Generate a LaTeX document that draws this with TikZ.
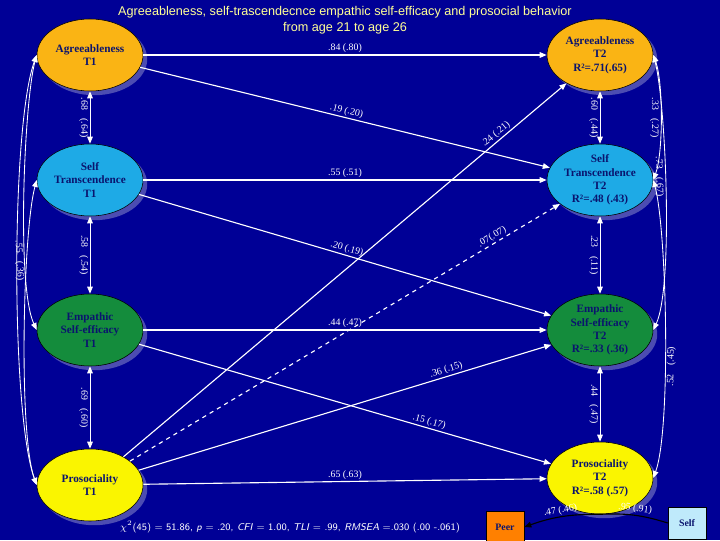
\documentclass[tikz,border=0pt]{standalone}
\usepackage{fontspec}
\setmainfont{Liberation Serif}
\newfontfamily\titlefont{Liberation Sans}
\usetikzlibrary{shapes.geometric,shadows,arrows.meta}
\definecolor{bgnavy}{RGB}{0,0,150}
\definecolor{txtnavy}{RGB}{10,20,110}
\definecolor{agreeor}{RGB}{250,180,20}
\definecolor{selfcy}{RGB}{30,170,230}
\definecolor{empgr}{RGB}{20,140,60}
\definecolor{prosye}{RGB}{250,245,0}
\definecolor{titleye}{RGB}{255,255,150}
\tikzset{
	latent/.style={ellipse,draw=black,thin,minimum width=2.65cm,minimum height=1.8cm,inner sep=0pt,
		align=center,font=\bfseries\footnotesize,text=txtnavy,
		drop shadow={fill=gray!60!blue,shadow xshift=3pt,shadow yshift=-3pt,opacity=1}},
	obsbox/.style={draw=black,minimum width=0.95cm,minimum height=0.8cm,font=\bfseries\scriptsize,text=txtnavy},
	path/.style={draw=white,thick,-{Triangle[length=5pt,width=4pt]}},
	corr/.style={draw=white,semithick,{Triangle[length=5pt,width=4pt]}-{Triangle[length=5pt,width=4pt]}},
	lbl/.style={font=\scriptsize,text=white,inner sep=1pt}
}
\begin{document}
\begin{tikzpicture}[x=0.025cm,y=0.025cm]
	\fill[bgnavy] (0,0) rectangle (720,540);
	\useasboundingbox (0,0) rectangle (720,540);
	
	\node[text=titleye,font=\titlefont\small,align=center] (title) at (345,520)
	{Agreeableness, self-trascendecnce empathic self-efficacy and prosocial behavior\\from age 21 to age 26};
	
	%latent variables
	\node[latent,fill=agreeor] (a1) at (90,485) {Agreeableness\\T1};
	\node[latent,fill=agreeor] (a2) at (600,485) {Agreeableness\\T2\\R²=.71(.65)};
	\node[latent,fill=selfcy] (s1) at (90,360) {Self\\Transcendence\\T1};
	\node[latent,fill=selfcy] (s2) at (600,360) {Self\\Transcendence\\T2\\R²=.48 (.43)};
	\node[latent,fill=empgr] (e1) at (90,210) {Empathic\\Self-efficacy\\T1};
	\node[latent,fill=empgr] (e2) at (600,210) {Empathic\\Self-efficacy\\T2\\R²=.33 (.36)};
	\node[latent,fill=prosye] (p1) at (90,55) {Prosociality\\T1};
	\node[latent,fill=prosye] (p2) at (600,62) {Prosociality\\T2\\R²=.58 (.57)};
	
	%raters
	\node[obsbox,fill=orange] (peer) at (505,13) {Peer};
	\node[obsbox,fill=cyan!25] (self) at (687,17) {Self};
	
	%stability paths
	\draw[path] (a1) -- node[lbl,above] {.84 (.80)} (a2);
	\draw[path] (s1) -- node[lbl,above] {.55 (.51)} (s2);
	\draw[path] (e1) -- node[lbl,above] {.44 (.47)} (e2);
	\draw[path] (p1) -- node[lbl,above] {.65 (.63)} (p2);
	
	%cross-lagged paths
	\draw[path] (a1) -- node[lbl,above,sloped] {.19 (.20)} (s2);
	\draw[path] (s1) -- node[lbl,above,sloped] {.20 (.19)} (e2);
	\draw[path] (e1) -- node[lbl,above,sloped,pos=.7] {.15 (.17)} (p2);
	\draw[path] (p1) -- node[lbl,above,sloped,pos=.85] {.24 (.21)} (a2);
	\draw[path,dashed] (p1) -- node[lbl,above,sloped,pos=.85] {.07(.07)} (s2);
	\draw[path] (p1) -- node[lbl,above,sloped,pos=.75] {.36 (.15)} (e2);
	
	%correlations T1
	\draw[corr] (a1) -- node[lbl,sloped,below,align=center] {.68\hspace{6pt}(.64)} (s1);
	\draw[corr] (s1) -- node[lbl,sloped,below] {.58\hspace{6pt}(.54)} (e1);
	\draw[corr] (e1) -- node[lbl,sloped,below] {.69\hspace{6pt}(.60)} (p1);
	\draw[corr] (a1.west) to[out=250,in=110,looseness=.45] (p1.west);
	\draw[corr] (a1.west) to[out=255,in=115,looseness=.45] node[lbl,sloped,below,pos=.7] {.55\hspace{6pt}(.36)} (e1.west);
	\draw[corr] (s1.west) to[out=255,in=110,looseness=.45] (p1.west);
	
	%residual correlations T2
	\draw[corr] (a2) -- node[lbl,sloped,below] {.60\hspace{6pt}(.44)} (s2);
	\draw[corr] (s2) -- node[lbl,sloped,below] {.23\hspace{6pt}(.11)} (e2);
	\draw[corr] (e2) -- node[lbl,sloped,below] {.44\hspace{6pt}(.47)} (p2);
	\draw[corr] (a2.east) to[out=-70,in=70,looseness=.6] node[lbl,sloped,below] {.33\hspace{6pt}(.27)} (s2.east);
	\draw[corr] (a2.east) to[out=-75,in=65,looseness=.45] node[lbl,sloped,below,pos=.45] {.73\hspace{6pt}(.67)} (e2.east);
	\draw[corr] (s2.east) to[out=-75,in=70,looseness=.45] node[lbl,sloped,below,pos=.6] {.52\hspace{6pt}(.45)} (p2.east);
	
	%measurement
	\draw[draw=black,thick,-{Triangle[length=5pt,width=4pt]}] (p2.south) to[bend right=10] node[lbl,above,sloped] {.47 (.46)} (peer.east);
	\draw[draw=black,thick] (p2.south) to[bend left=10] node[lbl,above,sloped] {.95 (.91)} (self.west);
	
	\node[lbl,font=\sffamily\scriptsize] (fit) at (290,13)
	{$\chi^2$(45) = 51.86, \textit{p} = .20, \textit{CFI} = 1.00, \textit{TLI} = .99, \textit{RMSEA} =.030 (.00 -.061)};
\end{tikzpicture}
\end{document}
